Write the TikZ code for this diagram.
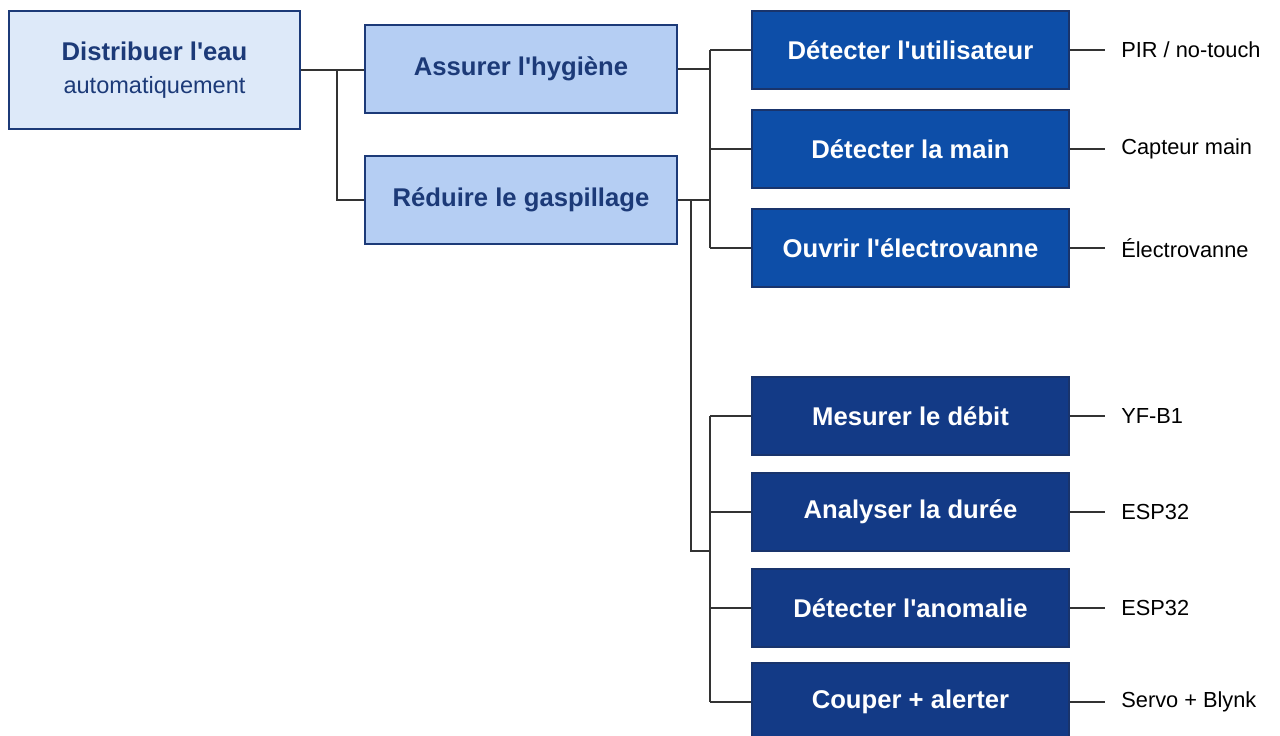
\documentclass[tikz,border=0pt]{standalone}
\usepackage{fontspec}
\setmainfont{Liberation Sans}
\definecolor{navy}{HTML}{1C3A78}
\definecolor{rootfill}{HTML}{DDE9F9}
\definecolor{midfill}{HTML}{B5CEF3}
\definecolor{upfill}{HTML}{0D4EA8}
\definecolor{lowfill}{HTML}{133A86}
\definecolor{wire}{HTML}{333333}
\newcommand\ap{\textquotesingle}
\begin{document}
\begin{tikzpicture}[x=0.02cm,y=-0.02cm,
    root/.style={rectangle,draw=navy,line width=1.2pt,fill=rootfill,text=navy,
      minimum width=5.82cm,minimum height=2.36cm,align=center,font=\fontsize{14.6}{18}\selectfont},
    sub/.style={rectangle,draw=navy,line width=0.9pt,fill=midfill,text=navy,
      minimum width=6.24cm,minimum height=1.76cm,font=\fontsize{14.6}{18}\selectfont\bfseries},
    fn/.style={rectangle,draw=navy!90!black,line width=0.9pt,fill=upfill,text=white,
      minimum width=6.34cm,minimum height=1.56cm,font=\fontsize{14.6}{18}\selectfont\bfseries},
    fnlow/.style={fn,fill=lowfill},
    part/.style={anchor=west,inner sep=0pt,font=\fontsize{12.4}{15}\selectfont},
    link/.style={draw=wire,line width=0.85pt}]
  \useasboundingbox (0,0) rectangle (1280,736);
  % root and sub-functions
  \node[root] (eau) at (154.5,70) {{\bfseries Distribuer l\ap eau}\\[1pt]{\fontsize{13.4}{16}\selectfont automatiquement}};
  \node[sub] (hyg) at (521,69) {Assurer l\ap hygiène};
  \node[sub] (gasp) at (521,200) {Réduire le gaspillage};
  % elementary functions
  \node[fn] (user) at (910.5,50) {Détecter l\ap utilisateur};
  \node[fn] (main) at (910.5,149) {Détecter la main};
  \node[fn] (vanne) at (910.5,248) {Ouvrir l\ap électrovanne};
  \node[fnlow] (debit) at (910.5,416) {Mesurer le débit};
  \node[fnlow] (duree) at (910.5,512) {Analyser la durée};
  \node[fnlow] (anom) at (910.5,608) {Détecter l\ap anomalie};
  \node[fnlow] (coup) at (910.5,702) {Couper + alerter};
  % components
  \node[part] (pir) at (1121,50) {PIR / no-touch};
  \node[part] (capt) at (1121,149) {Capteur main};
  \node[part] (elec) at (1121,248) {Électrovanne};
  \node[part] (yf) at (1121,416) {YF-B1};
  \node[part] (esp1) at (1121,512) {ESP32};
  \node[part] (esp2) at (1121,608) {ESP32};
  \node[part] (servo) at (1121,702) {Servo + Blynk};
  % junctions
  \coordinate (j0) at (337,70);
  \coordinate (busA) at (710,0);
  \coordinate (j1) at (691,200);
  \coordinate (j2) at (691,551);
  \coordinate (busB) at (710,551);
  \draw[link] (eau.east |- j0) -- (hyg.west |- j0);
  \draw[link] (j0) |- (gasp.west);
  \draw[link] (hyg.east) -- (hyg.east -| busA);
  \draw[link] (gasp.east) -- (gasp.east -| busA);
  \draw[link] (busA |- user.west) -- (busA |- vanne.west);
  \foreach \n in {user,main,vanne}
    \draw[link] (busA |- \n.west) -- (\n.west);
  \draw[link] (j1) -- (j2) -- (busB);
  \draw[link] (busA |- debit.west) -- (busA |- coup.west);
  \foreach \n in {debit,duree,anom,coup}
    \draw[link] (busA |- \n.west) -- (\n.west);
  \foreach \n/\p in {user/pir,main/capt,vanne/elec,debit/yf,duree/esp1,anom/esp2,coup/servo}
    \draw[link] (\n.east) -- ++(35,0);
\end{tikzpicture}
\end{document}
